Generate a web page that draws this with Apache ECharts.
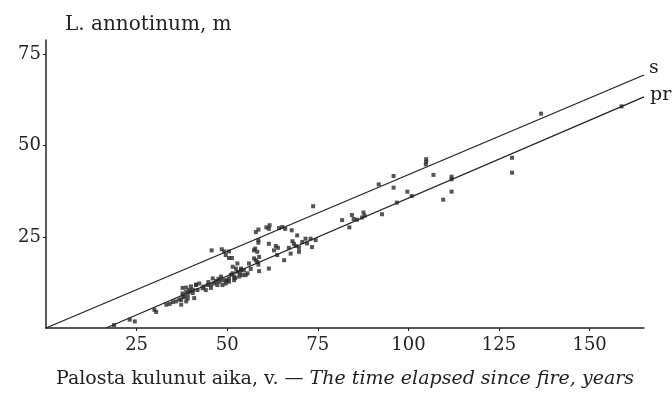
<!DOCTYPE html>
<html>
<head>
<meta charset="utf-8">
<script src="https://cdn.jsdelivr.net/npm/echarts@6/dist/echarts.min.js"></script>
<style>html,body{margin:0;padding:0;background:#fff;}#c{width:672px;height:394px;}</style>
</head>
<body>
<div id="c"></div>
<script>
const chartTitle = 'L. annotinum, m';
const xNameFi = 'Palosta kulunut aika, v. — ';
const xNameEn = 'The time elapsed since fire, years';
const xTicks = [25, 50, 75, 100, 125, 150];
const yTicks = [25, 50, 75];
const lineS = [[0, 0], [165, 69.4]];
const linePr = [[16.6, 0], [165, 63.4]];
const points = [
  [18.8,0.8],[23.1,2.3],[24.5,1.8],[29.9,5.0],[30.4,4.4],
  [33.2,6.4],[34.1,6.6],[35,7.1],[35.9,7.3],[36.8,7.8],
  [37.7,11.0],[38.7,11.1],[40,11.4],[40.5,10.5],[41.4,11.9],
  [37.7,8.7],[39.1,9.1],[40.5,9.6],[39.6,10.0],[40.9,8.2],[38.7,7.3],[37.3,6.4],
  [42.3,12.2],[41.4,11.8],[39.6,10.4],[38.7,9.9],[37.7,9.5],[38.2,8.5],[39.1,8.1],[37.3,7.7],
  [41.8,10.4],[43.2,10.9],[44.1,10.4],[45.5,11.0],
  [44.6,11.8],[45.5,11.9],[46.4,12.2],[47.3,11.8],[47.8,12.7],[48.7,13.1],[48.3,14.1],[46,13.6],
  [48.7,11.8],[49.6,12.2],[50.5,12.7],[51.9,13.1],[53.3,14.1],[54.2,14.5],[55.1,14.5],
  [49.6,13.1],[50.5,13.6],[51.9,14.1],[51.5,15.0],
  [43.5,11.4],[44.8,12.6],[46.9,12.9],[47.6,13.5],[50,13.0],[51,14.6],[52.2,13.7],[53.5,15.0],[54.6,15.8],[56.5,16.2],
  [51.5,16.8],[52.4,16.3],[53.8,16.3],[52.8,15.4],[53.8,15.9],[52.8,17.7],
  [55.6,15.0],[56,17.7],[58.8,15.6],[61.5,16.3],
  [57.4,19.1],[57.9,18.6],[58.3,18.1],[58.6,17.4],[58.8,19.5],[58.3,20.9],
  [57.4,21.3],[57.7,21.8],[58.6,24.1],[58.6,23.4],
  [61.5,23.1],[63.4,22.5],[62.9,21.3],[64,22.0],[65.7,18.6],[63.8,20.0],
  [68,23.8],[68.4,23.1],[68.9,22.5],[67.5,20.4],[67,22.0],
  [69.8,22.0],[69.8,20.9],[70.7,23.6],[71.6,24.5],[73,24.5],[74.4,24.1],[73.4,22.2],[72,23.2],
  [45.7,21.3],[48.5,21.6],[49.2,21.0],[50.5,21.0],[49.6,20.0],[50.5,19.2],[51.3,19.2],
  [57.9,26.3],[58.6,27.0],[60.8,27.6],[61.5,27.2],[61.7,28.2],[64.3,27.4],[65.2,27.7],[66,27.2],[67.8,26.8],[69.3,25.4],
  [73.7,33.4],
  [81.7,29.6],[84.4,31.0],[84.9,29.9],[83.7,27.6],
  [85.8,29.7],[87.2,30.3],[87.6,31.7],[87.9,30.8],
  [91.8,39.4],[95.9,41.7],[95.9,38.5],[92.7,31.2],[96.8,34.4],[99.7,37.4],[100.9,36.2],
  [104.9,46.3],[104.9,45.6],[104.8,44.9],[106.9,42.0],[111.9,41.5],[111.9,40.8],[111.9,37.4],[109.6,35.2],
  [128.6,46.7],[128.6,42.6],[136.6,58.8],[158.8,60.8]
];

const serif = '"DejaVu Serif", "Liberation Serif", serif';
const ink = '#222';
const chart = echarts.init(document.getElementById('c'), null, {renderer: 'canvas'});
chart.setOption({
  backgroundColor: '#fff',
  animation: false,
  title: {
    text: chartTitle, left: 60, top: 10,
    textStyle: {fontFamily: serif, fontSize: 20, fontWeight: 'normal', color: ink}
  },
  grid: {left: 46, right: 28, top: 40, bottom: 63, containLabel: false},
  xAxis: {
    type: 'value', min: 0, max: 165,
    axisLine: {show: true, onZero: false, lineStyle: {color: ink, width: 1.5}},
    axisTick: {show: true, length: 3, customValues: xTicks, lineStyle: {color: ink}},
    axisLabel: {customValues: xTicks, fontFamily: serif, fontSize: 18, color: ink, margin: 8},
    splitLine: {show: false},
    name: '{a|' + xNameFi + '}{b|' + xNameEn + '}',
    nameLocation: 'middle', nameGap: 42,
    nameTextStyle: {
      rich: {
        a: {fontFamily: serif, fontSize: 19, color: ink},
        b: {fontFamily: serif, fontSize: 19, fontStyle: 'italic', color: ink}
      }
    }
  },
  yAxis: {
    type: 'value', min: 0, max: 79,
    axisLine: {show: true, onZero: false, lineStyle: {color: ink, width: 1.5}},
    axisTick: {show: true, length: 3, customValues: yTicks, lineStyle: {color: ink}},
    axisLabel: {customValues: yTicks, fontFamily: serif, fontSize: 18, color: ink, margin: 5},
    splitLine: {show: false}
  },
  series: [
    {
      name: 's', type: 'line', data: lineS, symbol: 'none',
      lineStyle: {color: ink, width: 1.3},
      endLabel: {show: true, formatter: '{a}', fontFamily: serif, fontSize: 19, color: ink, offset: [0, -7], distance: 5}
    },
    {
      name: 'pr', type: 'line', data: linePr, symbol: 'none',
      lineStyle: {color: ink, width: 1.3},
      endLabel: {show: true, formatter: '{a}', fontFamily: serif, fontSize: 19, color: ink, offset: [0, -2], distance: 6}
    },
    {
      name: 'obs', type: 'scatter', data: points, symbol: 'rect', symbolSize: 4,
      itemStyle: {color: '#2a2a2a'}
    }
  ]
});
</script>
</body>
</html>
